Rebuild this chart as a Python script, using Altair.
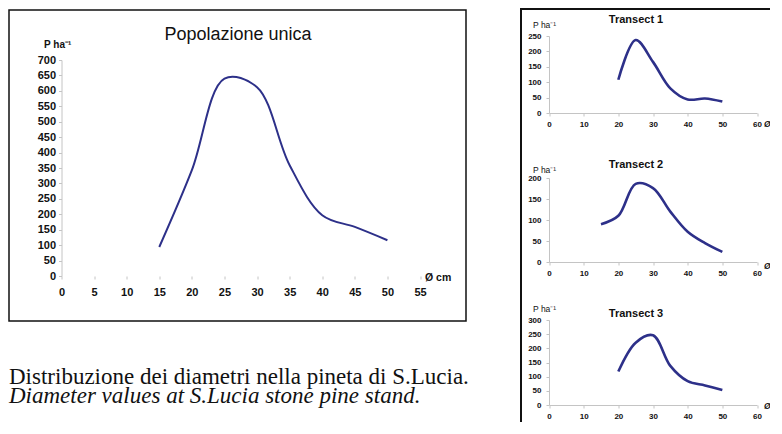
import altair as alt
import pandas as pd

# ---------------- data ----------------
main_d = [15, 20, 25, 30, 35, 40, 45, 50]
main_p = [94, 343, 640, 612, 359, 197, 159, 116]

t1_d = [20, 25, 30, 35, 40, 45, 50]
t1_p = [108, 237, 166, 80, 44, 47, 37]

t2_d = [15, 20, 25, 30, 35, 40, 45, 50]
t2_p = [90, 110, 186, 176, 120, 72, 45, 24]

t3_d = [20, 25, 30, 35, 40, 45, 50]
t3_p = [118, 220, 246, 138, 84, 69, 53]

main_title = "Popolazione unica"
t_titles = ["Transect 1", "Transect 2", "Transect 3"]
y_label = "P ha⁻¹"
x_label = "Ø cm"
caption_it = "Distribuzione dei diametri nella pineta di S.Lucia."
caption_en = "Diameter values at S.Lucia stone pine stand."
main_x_ticks = list(range(0, 56, 5))
main_y_ticks = list(range(0, 701, 50))
t_x_ticks = list(range(0, 61, 10))
t_y_max = [250, 200, 300]

# ---------------- styles / layout (pixels, relative to the view origin) ----------------
LINE = "#2d3089"
SANS = "Liberation Sans"
SERIF = "Liberation Serif"
INK = "#111111"
AXIS_GREY = "#c4c4c4"

W, H = 695.5, 369          # single view; origin = main y-axis / top of Transect 1
PAD = {"left": 53.5, "top": 28, "right": 13, "bottom": 17}

MAIN_X_RANGE = [0, 358.5]
MAIN_Y_RANGE = [240, 24]
T_X_RANGE = [487.5, 695.5]
T_Y_RANGES = [[77, 0], [226, 142], [369, 284]]
T_AXIS_Y = [r[0] for r in T_Y_RANGES]

dummy = pd.DataFrame({"k": [0]})


def deco_text(text, x, y, size, weight="normal", align="left", baseline="middle",
              font=SANS, style="normal"):
    return alt.Chart(dummy).mark_text(
        text=text, font=font, fontSize=size, fontWeight=weight, fontStyle=style,
        align=align, baseline=baseline, color=INK
    ).encode(x=alt.value(x), y=alt.value(y))


def rule(x, y, x2=None, y2=None, width=2):
    enc = {"x": alt.value(x), "y": alt.value(y)}
    if x2 is not None:
        enc["x2"] = alt.value(x2)
    if y2 is not None:
        enc["y2"] = alt.value(y2)
    return alt.Chart(dummy).mark_rule(color=INK, strokeWidth=width,
                                      strokeCap="square").encode(**enc)


# ---------------- main chart ----------------
main_df = pd.DataFrame({"d": main_d, "p": main_p})
main_line = alt.Chart(main_df).mark_line(
    interpolate="catmull-rom", color=LINE, strokeWidth=2
).encode(
    x=alt.X("d:Q", scale=alt.Scale(domain=[0, 55], range=MAIN_X_RANGE, nice=False),
            axis=alt.Axis(values=main_x_ticks, title=None, grid=False, domain=False,
                          orient="bottom", offset=MAIN_Y_RANGE[0] - H,
                          tickColor=AXIS_GREY, tickSize=3, labelPadding=7,
                          labelFont=SANS, labelFontSize=11, labelFontWeight="bold",
                          labelColor=INK, labelFlush=False, labelOverlap=False)),
    y=alt.Y("p:Q", scale=alt.Scale(domain=[0, 700], range=MAIN_Y_RANGE, nice=False),
            axis=alt.Axis(values=main_y_ticks, title=None, grid=False, orient="left",
                          offset=0, domainColor=AXIS_GREY, tickColor=AXIS_GREY,
                          tickSize=3, labelPadding=3, labelFont=SANS, labelFontSize=11,
                          labelFontWeight="bold", labelColor=INK, labelOverlap=False)),
)

main_frame = alt.Chart(dummy).mark_rect(
    fillOpacity=0, stroke=INK, strokeWidth=1.5
).encode(x=alt.value(-52.5), x2=alt.value(404.5), y=alt.value(-26), y2=alt.value(285))

layers = [
    main_frame,
    main_line,
    deco_text(main_title, 176.5, -1, 18, align="center"),
    deco_text(y_label, -17.5, 9, 10, weight="bold"),
    deco_text(x_label, 363.5, 242, 10.5, weight="bold"),
    deco_text(caption_it, -52.5, 348, 23, baseline="alphabetic", font=SERIF),
    deco_text(caption_en, -52.5, 367.3, 23, baseline="alphabetic", font=SERIF,
              style="italic"),
    # frame of the transect panel (cut by the picture's edges)
    rule(459.5, -27, y2=400),
    rule(459.5, -27, x2=720),
]

# ---------------- transects ----------------
t_data = [(t1_d, t1_p), (t2_d, t2_p), (t3_d, t3_p)]
title_y = [-16, 128.6, 278.3]
pha_y = [-11, 133.6, 273.3]
ocm_y = [87.5, 230, 370.3]

for i, (d, p) in enumerate(t_data):
    df = pd.DataFrame({"d": d, "p": p})
    layers.append(alt.Chart(df).mark_line(
        interpolate="catmull-rom", color=LINE, strokeWidth=2.6
    ).encode(
        x=alt.X("d:Q", scale=alt.Scale(domain=[0, 60], range=T_X_RANGE, nice=False),
                axis=alt.Axis(values=t_x_ticks, title=None, grid=False, orient="bottom",
                              offset=T_AXIS_Y[i] - H, domainColor=AXIS_GREY,
                              tickColor=AXIS_GREY, tickSize=3, labelPadding=4,
                              labelFont=SANS, labelFontSize=8, labelFontWeight="bold",
                              labelColor=INK, labelFlush=False, labelOverlap=False)),
        y=alt.Y("p:Q", scale=alt.Scale(domain=[0, t_y_max[i]], range=T_Y_RANGES[i],
                                       nice=False),
                axis=alt.Axis(values=list(range(0, t_y_max[i] + 1, 50)), title=None,
                              grid=False, orient="left", offset=-T_X_RANGE[0],
                              domainColor=AXIS_GREY, tickColor=AXIS_GREY, tickSize=3,
                              labelPadding=5, labelFont=SANS, labelFontSize=8,
                              labelFontWeight="bold", labelColor=INK,
                              labelOverlap=False)),
    ))
    layers.append(deco_text(t_titles[i], 574.5, title_y[i], 11, weight="bold",
                            align="center"))
    layers.append(deco_text(y_label, 471.5, pha_y[i], 8.5))
    layers.append(deco_text(x_label, 702.5, ocm_y[i], 8.5, weight="bold",
                            style="italic"))

chart = alt.layer(*layers).resolve_scale(
    x="independent", y="independent"
).resolve_axis(
    x="independent", y="independent"
).properties(
    width=W, height=H,
    autosize=alt.AutoSizeParams(type="none"),
    padding=PAD,
    background="white",
).configure_view(stroke=None)

chart.save("out.html", embed_options={"renderer": "svg", "actions": False})
